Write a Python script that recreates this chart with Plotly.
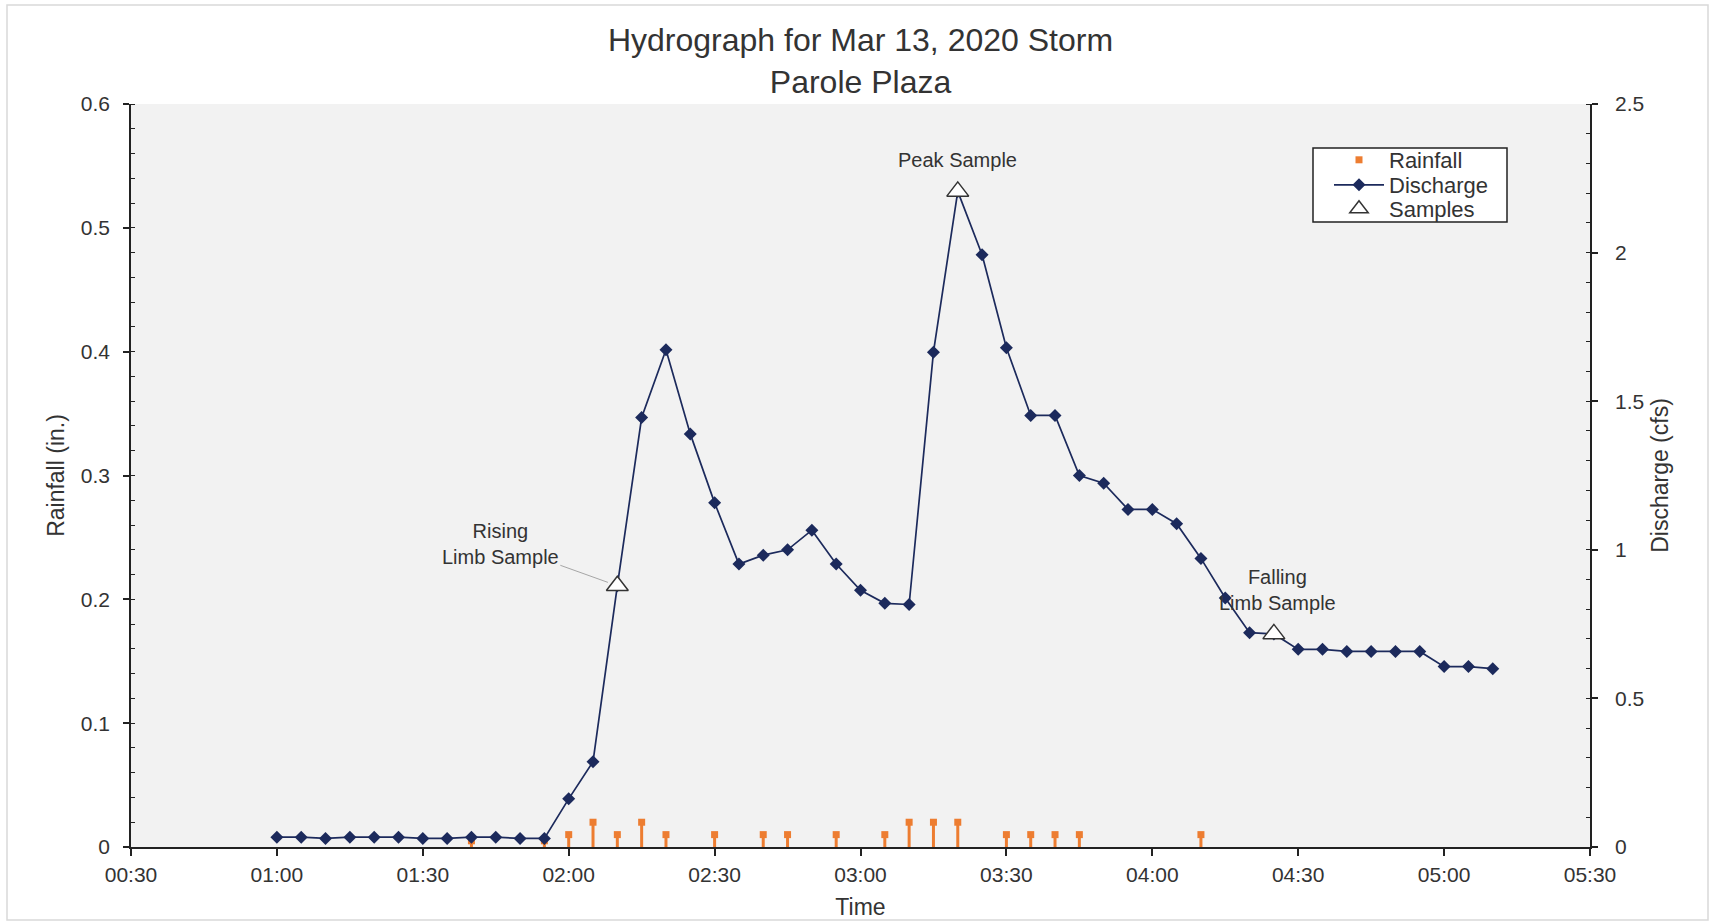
import plotly.graph_objects as go
import pandas as pd

DAY = "2020-03-13"
FONT = "Liberation Sans, Arial, sans-serif"
TXT = "#333333"

# ---- data ----
discharge_times = pd.date_range(f"{DAY} 01:00", f"{DAY} 05:10", freq="5min")
discharge_cfs = [0.033, 0.033, 0.029, 0.033, 0.033, 0.033, 0.029, 0.029, 0.033, 0.033, 0.029, 0.029,
                 0.162, 0.287, 0.879, 1.445, 1.673, 1.390, 1.158, 0.952, 0.982, 1.000, 1.066, 0.952,
                 0.864, 0.820, 0.816, 1.665, 2.206, 1.993, 1.680, 1.452, 1.452, 1.250, 1.224, 1.136,
                 1.136, 1.088, 0.971, 0.838, 0.721, 0.717, 0.665, 0.665, 0.658, 0.658, 0.658, 0.658,
                 0.607, 0.607, 0.600]

rain_times = ["01:40", "01:55", "02:00", "02:05", "02:10", "02:15", "02:20", "02:30", "02:40", "02:45",
              "02:55", "03:05", "03:10", "03:15", "03:20", "03:30", "03:35", "03:40", "03:45", "04:10"]
rain_in = [0.005, 0.005, 0.01, 0.02, 0.01, 0.02, 0.01, 0.01, 0.01, 0.01,
           0.01, 0.01, 0.02, 0.02, 0.02, 0.01, 0.01, 0.01, 0.01, 0.01]

sample_times = ["02:10", "03:20", "04:25"]
sample_cfs = [0.879, 2.206, 0.717]
sample_labels = ["Rising<br>Limb Sample", "Peak Sample", "Falling<br>Limb Sample"]

rain_x = [f"{DAY} {t}" for t in rain_times]
sample_x = [f"{DAY} {t}" for t in sample_times]

ORANGE = "#ed7d31"
NAVY = "#1c2a5c"

L, R, T, B = 131, 123, 104, 76
W, H = 1713, 923
pw, ph = W - L - R, H - T - B
def px(xp): return (xp - L) / pw
def py(yp): return (H - B - yp) / ph

fig = go.Figure()
fig.add_trace(go.Scatter(
    x=rain_x, y=rain_in, name="Rainfall", mode="markers",
    marker=dict(symbol="square", size=7, color=ORANGE),
    error_y=dict(type="data", symmetric=False, array=[0] * len(rain_in), arrayminus=rain_in,
                 color=ORANGE, thickness=3, width=0),
    yaxis="y", legend="legend"))
fig.add_trace(go.Scatter(
    x=discharge_times, y=discharge_cfs, name="Discharge", mode="lines+markers",
    line=dict(color=NAVY, width=1.7),
    marker=dict(symbol="diamond", size=10, color=NAVY),
    yaxis="y2", legend="legend2"))
fig.add_trace(go.Scatter(
    x=sample_x, y=sample_cfs, name="Samples", mode="markers",
    marker=dict(symbol="triangle-up", size=19, color="white", line=dict(color="#333333", width=1.5)),
    yaxis="y2", legend="legend3"))

annotations = [
    dict(x=sample_x[0], y=sample_cfs[0], xref="x", yref="y2", text=sample_labels[0],
         showarrow=True, arrowhead=0, arrowwidth=1, arrowcolor="#a6a6a6", ax=-117, ay=-42,
         standoff=10, font=dict(size=20, color=TXT, family=FONT)),
    dict(x=sample_x[1], y=sample_cfs[1], xref="x", yref="y2", text=sample_labels[1],
         showarrow=False, yanchor="middle", yshift=31, font=dict(size=20, color=TXT, family=FONT)),
    dict(x=sample_x[2], y=sample_cfs[2], xref="x", yref="y2", text=sample_labels[2],
         showarrow=False, yanchor="middle", yshift=44, xshift=4, font=dict(size=20, color=TXT, family=FONT)),
]

shapes = [
    dict(type="rect", xref="paper", yref="paper", x0=px(7), x1=px(1708), y0=py(920), y1=py(5),
         line=dict(color="#d9d9d9", width=1.5), fillcolor="rgba(0,0,0,0)", layer="below"),
    dict(type="rect", xref="paper", yref="paper", x0=px(1313), x1=px(1507), y0=py(222), y1=py(148),
         line=dict(color="#222222", width=1.5), fillcolor="white", layer="above"),
]

axis_common = dict(showgrid=False, zeroline=False, showline=True, linecolor="#222222", linewidth=1.6,
                   tickfont=dict(size=21, color=TXT, family=FONT), tickcolor="#222222", tickwidth=1.6,
                   automargin=False)

leg_common = dict(x=px(1329), xanchor="left", yanchor="middle", bgcolor="rgba(0,0,0,0)",
                  borderwidth=0, font=dict(size=22, color=TXT, family=FONT), itemwidth=50)

fig.update_layout(
    width=W, height=H, margin=dict(l=L, r=R, t=T, b=B),
    paper_bgcolor="white", plot_bgcolor="#f2f2f2",
    font=dict(family=FONT, color=TXT),
    title=dict(text="Hydrograph for Mar 13, 2020 Storm<br>Parole Plaza", x=(L + pw / 2) / W, xanchor="center",
               y=1 - 51 / H, yanchor="middle", yref="container", font=dict(size=32, color=TXT, family=FONT)),
    xaxis=dict(**axis_common, type="date", range=[f"{DAY} 00:30", f"{DAY} 05:30"],
               tick0=f"{DAY} 00:30", dtick=1800000, tickformat="%H:%M", ticks="outside", ticklen=7,
               ticklabelstandoff=1,
               title=dict(text="Time", font=dict(size=23, color=TXT, family=FONT), standoff=14)),
    yaxis=dict(**axis_common, range=[0, 0.6], dtick=0.1, ticks="outside", ticklen=6,
               ticklabelstandoff=9,
               minor=dict(dtick=0.02, ticks="inside", ticklen=4, tickcolor="#222222", tickwidth=1.2),
               title=dict(text="Rainfall (in.)", font=dict(size=23, color=TXT, family=FONT), standoff=10)),
    yaxis2=dict(**axis_common, range=[0, 2.5], dtick=0.5, ticks="outside", ticklen=6,
                overlaying="y", side="right", anchor="x", ticklabelstandoff=13,
                minor=dict(dtick=0.1, ticks="inside", ticklen=4, tickcolor="#222222", tickwidth=1.2),
                title=dict(text="Discharge (cfs)", font=dict(size=23, color=TXT, family=FONT), standoff=9)),
    legend=dict(**leg_common, y=py(160)),
    legend2=dict(**leg_common, y=py(185)),
    legend3=dict(**leg_common, y=py(209)),
    annotations=annotations, shapes=shapes, showlegend=True,
)

fig.write_html("out.html")
